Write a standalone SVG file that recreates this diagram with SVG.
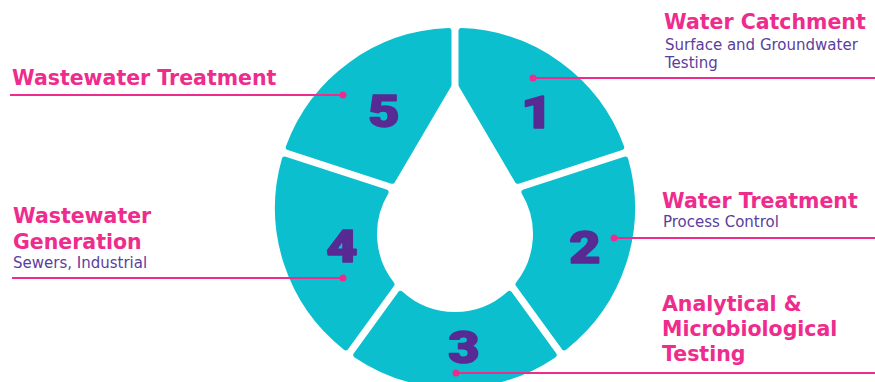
<svg xmlns="http://www.w3.org/2000/svg" width="875" height="382" viewBox="0 0 875 382">
<style>
.seg{fill:#0cbfce;stroke:#0cbfce;stroke-width:6;stroke-linejoin:round}
.num{font-family:Roboto,"DejaVu Sans",sans-serif;font-weight:900;font-size:45px;fill:#582a93;stroke:#582a93;stroke-width:1.6;stroke-linejoin:round;text-anchor:middle}
.ttl{font-family:"DejaVu Sans",Verdana,sans-serif;font-weight:bold;font-size:20.5px;fill:#ee2c8d}
.sub{font-family:"DejaVu Sans",Verdana,sans-serif;font-size:15px;fill:#5a3e9e}
.ln{stroke:#ee2c8d;stroke-width:2;fill:none}
.dot{fill:#ee2c8d}
</style>
<rect width="875" height="382" fill="#ffffff"/>
<g id="seg1">
<path class="seg" d="M461.5,85.07 L461.5,31.12 A177,177 0 0,1 621.22,147.16 L517.73,180.79 Z"/>
<text class="num" transform="translate(537,128) scale(1.2,1)">1</text>
</g>
<g id="seg2">
<path class="seg" d="M524.43,192.27 L625.24,159.52 A177,177 0 0,1 564.23,347.28 L518.48,284.31 A81,81 0 0,0 524.43,192.27 Z"/>
<text class="num" transform="translate(585,263) scale(1.2,1)">2</text>
</g>
<g id="seg3">
<path class="seg" d="M509.44,293.98 L553.71,354.92 A177,177 0 0,1 356.29,354.92 L400.56,293.98 A81,81 0 0,0 509.44,293.98 Z"/>
<text class="num" transform="translate(464,363) scale(1.2,1)">3</text>
</g>
<g id="seg4">
<path class="seg" d="M385.57,192.27 L284.76,159.52 A177,177 0 0,0 345.77,347.28 L391.52,284.31 A81,81 0 0,1 385.57,192.27 Z"/>
<text class="num" transform="translate(342,262) scale(1.2,1)">4</text>
</g>
<g id="seg5">
<path class="seg" d="M448.5,85.07 L448.5,31.12 A177,177 0 0,0 288.78,147.16 L392.27,180.79 Z"/>
<text class="num" transform="translate(384,127) scale(1.2,1)">5</text>
</g>
<g id="connectors">
<line class="ln" x1="533" y1="78" x2="875" y2="78"/>
<line class="ln" x1="343" y1="95" x2="10" y2="95"/>
<line class="ln" x1="614" y1="238" x2="875" y2="238"/>
<line class="ln" x1="343" y1="278" x2="12" y2="278"/>
<line class="ln" x1="456" y1="373" x2="875" y2="373"/>
<circle class="dot" cx="533" cy="78" r="3.5"/>
<circle class="dot" cx="343" cy="95" r="3.5"/>
<circle class="dot" cx="614" cy="238" r="3.5"/>
<circle class="dot" cx="343" cy="278" r="3.5"/>
<circle class="dot" cx="456" cy="373" r="3.5"/>
</g>
<g id="label1">
<text class="ttl" x="664" y="29">Water Catchment</text>
<text class="sub" x="665" y="50">Surface and Groundwater</text>
<text class="sub" x="665" y="68">Testing</text>
</g>
<g id="label5">
<text class="ttl" x="12" y="85">Wastewater Treatment</text>
</g>
<g id="label2">
<text class="ttl" x="662" y="208">Water Treatment</text>
<text class="sub" x="663" y="227">Process Control</text>
</g>
<g id="label4">
<text class="ttl" x="13" y="223">Wastewater</text>
<text class="ttl" x="13" y="249">Generation</text>
<text class="sub" x="13" y="268">Sewers, Industrial</text>
</g>
<g id="label3">
<text class="ttl" x="662" y="311">Analytical &amp;</text>
<text class="ttl" x="662" y="336">Microbiological</text>
<text class="ttl" x="662" y="361">Testing</text>
</g>
</svg>
